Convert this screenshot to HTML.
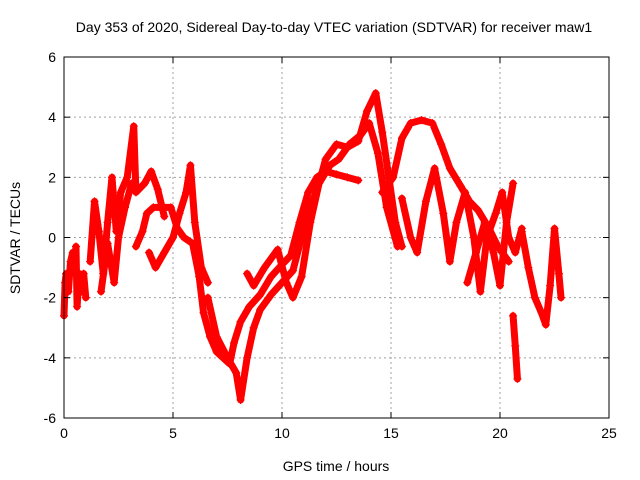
<!DOCTYPE html>
<html><head><meta charset="utf-8"><style>
body{margin:0;background:#fff}
svg{display:block;font-family:"Liberation Sans",sans-serif}
</style></head><body>
<svg width="640" height="480" viewBox="0 0 640 480">
<rect width="640" height="480" fill="#fff"/>
<text x="334" y="32" font-size="14" text-anchor="middle">Day 353 of 2020, Sidereal Day-to-day VTEC variation (SDTVAR) for receiver maw1</text>
<g id="grid"></g>
<g id="series"></g>
<rect x="64" y="57" width="545" height="361" fill="none" stroke="#000" stroke-width="1"/>
<g id="ticks"></g>
<text x="336" y="471" font-size="14" text-anchor="middle">GPS time / hours</text>
<text transform="translate(20,238) rotate(-90)" font-size="14" text-anchor="middle">SDTVAR / TECUs</text>
</svg>
<script>
const xTicks=[0,5,10,15,20,25];
const yTicks=[-6,-4,-2,0,2,4,6];
const trackA=[[0,-2.6],[0.05,-1.5],[0.1,-1.2],[0.2,-1.8],[0.3,-0.8],[0.4,-0.5],[0.5,-1],[0.55,-0.3],[0.6,-2.3],[0.7,-1.2],[0.8,-1.8],[0.9,-1.2],[1.0,-2]];
const trackB=[[1.2,-0.8],[1.4,1.2],[1.6,0.2],[1.8,-1.2],[2.0,0.5],[2.2,2.0],[2.4,0.2],[2.6,1.5],[2.9,2],[3.2,3.7],[3.3,1.5],[3.7,1.8],[4.0,2.2],[4.3,1.6],[4.6,0.7]];
const trackC=[[1.7,-1.8],[2.0,-0.2],[2.3,-1.5],[2.5,0],[2.8,1],[3.1,1.8]];
const trackD=[[3.3,-0.3],[3.6,0.2],[3.8,0.8],[4.1,1],[4.5,1],[4.9,1],[5.2,0.3],[5.5,0],[5.9,-0.2],[6.2,-1.3],[6.4,-2.5],[6.7,-3.3],[7.0,-3.8],[7.3,-4],[7.6,-4.2],[7.8,-3.5],[8.1,-2.8],[8.5,-2.3],[9.0,-1.9],[9.5,-1.3],[10.0,-0.9],[10.4,-0.6],[10.8,0.5],[11.2,1.5],[11.6,2.0],[12.0,2.2],[12.5,2.1],[13.0,2],[13.5,1.9]];
const trackE=[[3.9,-0.5],[4.2,-1],[4.6,-0.5],[5.0,0],[5.3,0.8],[5.6,1.5],[5.8,2.4],[6.0,0.5],[6.3,-1],[6.6,-1.5]];
const trackF=[[6.6,-2],[7.0,-3.3],[7.5,-4],[7.9,-4.5],[8.1,-5.4],[8.4,-4],[8.7,-3],[9.0,-2.4],[9.5,-1.9],[10.0,-1.5],[10.5,-1.1],[10.9,0],[11.3,1],[11.7,1.8],[12.0,2.6],[12.5,3.1],[13.0,3.0],[13.5,3.2],[13.9,4.2],[14.3,4.8],[14.6,3.5],[14.9,2],[15.2,0.5],[15.5,-0.3]];
const trackG=[[8.4,-1.2],[8.7,-1.6],[9.2,-1],[9.8,-0.4],[10.2,-1.5],[10.5,-2],[10.9,-1.3],[11.3,0.5],[11.7,1.8],[12.2,2.4],[12.6,2.6],[13.1,3.1],[13.6,3.4],[14.0,3.8],[14.4,2.8],[14.8,1],[15.3,-0.3]];
const trackH=[[14.6,1.5],[15.1,2],[15.5,3.3],[15.9,3.8],[16.4,3.9],[16.9,3.8],[17.3,3.1],[17.7,2.3],[18.2,1.7],[18.6,1.2],[19.0,0.9],[19.5,0.3],[19.9,-0.3],[20.4,-0.8]];
const trackI=[[15.5,1.3],[15.9,0],[16.2,-0.5],[16.6,1.2],[17.0,2.3],[17.4,0.8],[17.7,-0.8],[18.0,0.5],[18.4,1.5],[18.8,0],[19.1,-1.8],[19.4,0],[19.8,0.8],[20.1,1.5],[20.4,0],[20.7,-0.5],[21.0,0.3]];
const trackJ=[[18.5,-1.5],[18.9,-0.5],[19.3,0.5],[19.7,-0.5],[20.0,-1.6],[20.3,0.5],[20.6,1.8]];
const trackK=[[20.6,-2.6],[20.7,-3.6],[20.8,-4.7]];
const trackL=[[21.0,0.2],[21.3,-1],[21.6,-2],[21.9,-2.5],[22.1,-2.9],[22.3,-1.6],[22.5,0.3],[22.7,-1.2],[22.8,-2]];
const series=[trackA,trackB,trackC,trackD,trackE,trackF,trackG,trackH,trackI,trackJ,trackK,trackL];

const X0=64,X1=609,Y0=418,Y1=57;
const sx=v=>X0+(v-0)/(25-0)*(X1-X0);
const sy=v=>Y0-(v+6)/12*(Y0-Y1);
const NS="http://www.w3.org/2000/svg";
const grid=document.getElementById('grid'),ticks=document.getElementById('ticks'),ser=document.getElementById('series');
function mk(tag,attrs,parent){const e=document.createElementNS(NS,tag);for(const k in attrs)e.setAttribute(k,attrs[k]);parent.appendChild(e);return e;}
xTicks.forEach(t=>{
  const x=sx(t);
  if(t>0&&t<25){const g=mk('line',{x1:x,x2:x,y1:Y1,y2:Y0,stroke:'#a0a0a0','stroke-dasharray':'2,3'},grid);
  
  }
  mk('line',{x1:x,x2:x,y1:Y0,y2:Y0-6,stroke:'#000'},ticks);
  mk('line',{x1:x,x2:x,y1:Y1,y2:Y1+6,stroke:'#000'},ticks);
  const tx=mk('text',{x:x,y:Y0+20,'font-size':14,'text-anchor':'middle'},ticks);tx.textContent=t;
  
  
});
yTicks.forEach(t=>{
  const y=sy(t);
  if(t>-6&&t<6){const g=mk('line',{x1:X0,x2:X1,y1:y,y2:y,stroke:'#a0a0a0','stroke-dasharray':'2,3'},grid);
  
  }
  mk('line',{x1:X0,x2:X0+6,y1:y,y2:y,stroke:'#000'},ticks);
  mk('line',{x1:X1,x2:X1-6,y1:y,y2:y,stroke:'#000'},ticks);
  const tx=mk('text',{x:X0-8,y:y+5,'font-size':14,'text-anchor':'end'},ticks);tx.textContent=t;
  
  
});
series.forEach((tr,i)=>{
  const pts=tr.map(p=>sx(p[0])+','+sy(p[1])).join(' ');
  const pl=mk('polyline',{points:pts,fill:'none',stroke:'#f00','stroke-width':7,'stroke-linejoin':'round','stroke-linecap':'round'},ser);
  
  
  let d='';
  tr.forEach(p=>{const x=sx(p[0]),y=sy(p[1]);d+=`M${x-4},${y}h8M${x},${y-4}v8`;});
  const m=mk('path',{d:d,stroke:'#f00','stroke-width':1.2,fill:'none'},ser);
  
  
});
</script>
</body></html>
